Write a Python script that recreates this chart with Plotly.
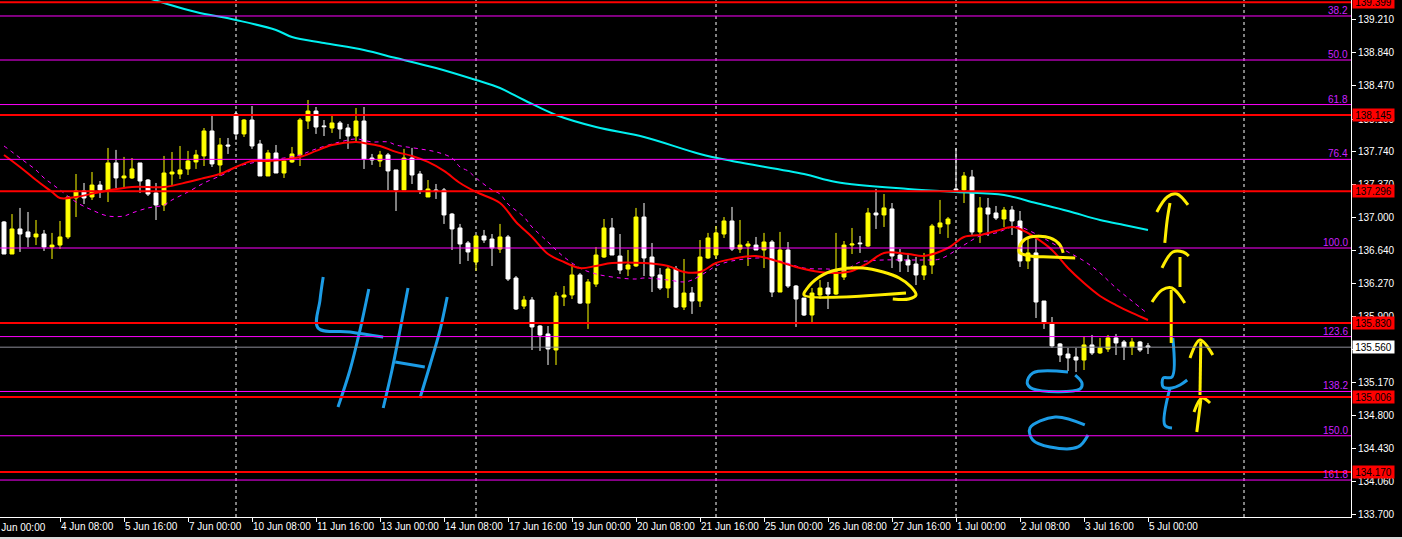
import plotly.graph_objects as go

# ---------------- data ----------------
candle_index = list(range(144))

open_ = [
    136.954, 136.597, 136.876, 136.843, 136.787, 136.820, 136.675, 136.697, 136.787, 137.221,
    137.299, 137.232, 137.365, 137.310, 137.611, 137.444, 137.444, 137.611, 137.421, 137.277,
    137.143, 137.488, 137.488, 137.544, 137.622, 137.689, 137.967, 137.588, 137.811, 138.156,
    137.934, 138.089, 137.822, 137.466, 137.722, 137.499, 137.622, 137.700, 138.078, 138.189,
    138.023, 138.000, 138.056, 138.000, 137.911, 138.078, 137.666, 137.633, 137.700, 137.533,
    137.310, 137.666, 137.488, 137.232, 137.310, 137.310, 137.042, 136.887, 136.720, 136.508,
    136.798, 136.764, 136.653, 136.787, 136.330, 136.018, 136.085, 135.796, 135.707, 135.529,
    136.118, 136.141, 136.364, 136.051, 136.263, 136.564, 136.887, 136.575, 136.430, 136.464,
    137.009, 136.564, 136.364, 136.219, 136.430, 136.007, 136.163, 136.074, 136.553, 136.586,
    136.820, 136.965, 136.653, 136.686, 136.697, 136.642, 136.731, 136.174, 136.642, 136.241,
    136.107, 135.918, 136.141, 136.219, 136.152, 136.341, 136.697, 136.720, 136.686, 137.054,
    137.032, 137.099, 136.586, 136.531, 136.486, 136.364, 136.475, 136.898, 136.932, 137.321,
    137.310, 137.455, 136.843, 137.110, 137.054, 136.987, 137.087, 136.965, 136.520, 136.609,
    136.074, 135.818, 135.596, 135.484, 135.451, 135.417, 135.585, 135.496, 135.540, 135.663,
    135.618, 135.562, 135.618, 135.574]

high = [
    136.965, 137.042, 137.110, 137.065, 136.976, 136.865, 136.832, 136.965, 137.232, 137.488,
    137.388, 137.510, 137.410, 137.778, 137.756, 137.678, 137.666, 137.611, 137.432, 137.388,
    137.689, 137.733, 137.800, 137.745, 137.756, 138.000, 138.156, 137.889, 137.889, 138.189,
    138.100, 138.245, 137.867, 137.756, 137.811, 137.655, 137.789, 138.111, 138.312, 138.234,
    138.089, 138.145, 138.078, 138.045, 138.223, 138.234, 137.711, 137.745, 137.722, 137.533,
    137.767, 137.778, 137.522, 137.421, 137.377, 137.332, 137.054, 136.932, 136.742, 136.809,
    136.865, 136.820, 136.932, 136.809, 136.352, 136.130, 136.118, 135.807, 135.796, 136.174,
    136.241, 136.486, 136.386, 136.319, 136.675, 136.987, 136.998, 136.820, 136.642, 137.110,
    137.165, 136.720, 136.441, 136.464, 136.464, 136.542, 136.230, 136.753, 136.832, 136.909,
    137.009, 137.121, 136.976, 136.742, 136.787, 136.832, 136.753, 136.843, 136.731, 136.252,
    136.107, 136.219, 136.308, 136.286, 136.832, 136.742, 136.887, 136.798, 137.110, 137.321,
    137.265, 137.165, 136.653, 136.609, 136.564, 136.609, 136.932, 137.199, 137.009, 137.778,
    137.510, 137.533, 137.232, 137.221, 137.132, 137.121, 137.132, 137.076, 136.776, 136.764,
    136.074, 135.896, 135.607, 135.551, 135.551, 135.674, 135.696, 135.663, 135.696, 135.707,
    135.640, 135.663, 135.629, 135.607]

low = [
    136.597, 136.597, 136.620, 136.675, 136.697, 136.631, 136.542, 136.653, 136.764, 137.009,
    137.154, 137.199, 137.221, 137.176, 137.332, 137.343, 137.432, 137.277, 137.243, 136.976,
    137.076, 137.354, 137.432, 137.477, 137.544, 137.577, 137.566, 137.466, 137.711, 137.867,
    137.900, 137.767, 137.466, 137.466, 137.499, 137.444, 137.611, 137.577, 137.989, 137.934,
    137.911, 137.945, 137.878, 137.767, 137.833, 137.544, 137.589, 137.566, 137.310, 137.076,
    137.310, 137.377, 137.265, 137.232, 137.210, 136.932, 136.642, 136.486, 136.520, 136.408,
    136.720, 136.464, 136.609, 136.297, 135.974, 135.985, 135.529, 135.518, 135.362, 135.362,
    136.018, 136.096, 136.040, 135.763, 136.230, 136.553, 136.586, 136.375, 136.352, 136.453,
    136.352, 136.174, 136.197, 136.107, 135.996, 135.974, 135.930, 136.007, 136.542, 136.542,
    136.776, 136.631, 136.609, 136.464, 136.642, 136.441, 136.118, 136.174, 136.219, 135.785,
    135.907, 135.830, 136.096, 135.985, 136.141, 136.308, 136.597, 136.609, 136.675, 136.876,
    136.898, 136.441, 136.397, 136.397, 136.252, 136.308, 136.375, 136.820, 136.776, 137.299,
    137.165, 136.809, 136.720, 136.798, 136.976, 136.898, 136.809, 136.453, 136.430, 135.885,
    135.763, 135.551, 135.395, 135.295, 135.284, 135.306, 135.473, 135.484, 135.507, 135.473,
    135.417, 135.473, 135.507, 135.484]

close = [
    136.597, 136.876, 136.820, 136.787, 136.820, 136.675, 136.697, 136.787, 137.232, 137.299,
    137.221, 137.365, 137.310, 137.611, 137.444, 137.466, 137.544, 137.410, 137.265, 137.143,
    137.499, 137.510, 137.533, 137.633, 137.700, 137.967, 137.600, 137.811, 137.800, 137.934,
    138.089, 137.800, 137.466, 137.722, 137.499, 137.633, 137.711, 138.089, 138.189, 138.011,
    138.015, 138.056, 137.989, 137.911, 138.078, 137.655, 137.644, 137.700, 137.522, 137.310,
    137.666, 137.477, 137.310, 137.321, 137.299, 137.032, 136.876, 136.709, 136.620, 136.798,
    136.753, 136.664, 136.787, 136.319, 135.985, 136.085, 135.785, 135.696, 135.540, 136.130,
    136.141, 136.364, 136.051, 136.286, 136.586, 136.887, 136.586, 136.419, 136.475, 137.009,
    136.553, 136.352, 136.219, 136.430, 136.007, 136.163, 136.074, 136.564, 136.776, 136.832,
    136.965, 136.653, 136.697, 136.709, 136.642, 136.731, 136.174, 136.642, 136.241, 136.096,
    135.918, 136.163, 136.219, 136.152, 136.397, 136.697, 136.709, 136.712, 137.054, 137.032,
    137.110, 136.575, 136.520, 136.475, 136.364, 136.464, 136.909, 136.943, 136.987, 137.310,
    137.466, 136.843, 137.110, 137.042, 136.998, 137.087, 136.965, 136.520, 136.609, 136.063,
    135.830, 135.574, 135.473, 135.440, 135.417, 135.585, 135.496, 135.551, 135.663, 135.607,
    135.562, 135.618, 135.529, 135.560]

# moving averages (sampled at candle indices)
red_ma_index = [0, 2, 4, 6, 7, 9, 12, 16, 20, 23, 25, 27, 29, 31, 33, 37, 39, 41, 44, 45, 47, 49,
                51, 53, 55, 57, 59, 62, 64, 66, 68, 70, 72, 74, 76, 80, 83, 85, 87, 89, 91, 94,
                97, 99, 102, 104, 106, 108, 110, 113, 115, 118, 120, 122, 124, 126, 127, 129,
                131, 133, 135, 137, 139, 141, 143]
red_ma = [137.700, 137.566, 137.421, 137.288, 137.221, 137.232, 137.288, 137.343, 137.343, 137.399,
          137.444, 137.488, 137.566, 137.633, 137.633, 137.678, 137.745, 137.811, 137.845, 137.833,
          137.800, 137.734, 137.689, 137.622, 137.522, 137.388, 137.288, 137.165, 136.954, 136.787,
          136.597, 136.508, 136.441, 136.464, 136.497, 136.497, 136.464, 136.397, 136.397, 136.497,
          136.542, 136.575, 136.508, 136.453, 136.397, 136.386, 136.408, 136.497, 136.609, 136.597,
          136.575, 136.664, 136.787, 136.809, 136.854, 136.898, 136.876, 136.776, 136.642, 136.441,
          136.274, 136.130, 136.029, 135.941, 135.863]

magenta_ma_index = [0, 1, 2, 3, 4, 5, 6, 7, 9, 11, 13, 15, 16, 18, 20, 21, 23, 25, 27, 28, 29, 31,
                    33, 35, 37, 39, 42, 44, 46, 48, 49, 52, 54, 56, 57, 58, 59, 61, 62, 63, 65, 66,
                    68, 69, 70, 72, 74, 77, 79, 80, 83, 85, 86, 88, 89, 91, 95, 97, 100, 103, 105,
                    107, 108, 110, 113, 115, 117, 120, 122, 124, 126, 127, 129, 131, 133, 135, 137,
                    139, 141, 143]
magenta_ma = [137.800, 137.734, 137.666, 137.600, 137.533, 137.444, 137.377, 137.310, 137.176, 137.087,
              137.020, 137.020, 137.054, 137.110, 137.143, 137.199, 137.288, 137.388, 137.466, 137.510,
              137.566, 137.611, 137.644, 137.666, 137.700, 137.767, 137.845, 137.878, 137.845, 137.845,
              137.811, 137.767, 137.734, 137.666, 137.566, 137.522, 137.444, 137.310, 137.265, 137.154,
              137.009, 136.898, 136.731, 136.642, 136.564, 136.441, 136.375, 136.330, 136.319, 136.330,
              136.308, 136.286, 136.308, 136.408, 136.464, 136.520, 136.553, 136.520, 136.441, 136.430,
              136.419, 136.508, 136.520, 136.531, 136.531, 136.531, 136.542, 136.697, 136.798, 136.832,
              136.898, 136.898, 136.820, 136.720, 136.620, 136.520, 136.386, 136.219, 136.074, 135.930]

cyan_ma_index = [18, 20, 24, 29, 34, 36, 40, 45, 49, 54, 59, 62, 65, 69, 74, 80, 87, 91, 100, 104,
                 113, 119, 125, 129, 133, 137, 140, 143]
cyan_ma = [139.447, 139.392, 139.291, 139.202, 139.091, 139.013, 138.946, 138.868, 138.779, 138.668,
           138.534, 138.445, 138.312, 138.145, 138.011, 137.900, 137.711, 137.633, 137.488, 137.399,
           137.321, 137.288, 137.254, 137.165, 137.076, 136.976, 136.920, 136.865]

x_tick_index = [7, 15, 23, 31, 39, 47, 55, 63, 71, 79, 87, 95, 103, 111, 119, 127, 135, 143]
x_tick_labels = ["4 Jun 08:00", "5 Jun 16:00", "7 Jun 00:00", "10 Jun 08:00", "11 Jun 16:00",
                 "13 Jun 00:00", "14 Jun 08:00", "17 Jun 16:00", "19 Jun 00:00", "20 Jun 08:00",
                 "21 Jun 16:00", "25 Jun 00:00", "26 Jun 08:00", "27 Jun 16:00", "1 Jul 00:00",
                 "2 Jul 08:00", "3 Jul 16:00", "5 Jul 00:00"]
first_label_index = -1
first_label = "3 Jun 00:00"

y_tick_values = [139.210, 138.840, 138.470, 138.100, 137.740, 137.370, 137.000, 136.640, 136.270,
                 135.900, 135.530, 135.170, 134.800, 134.430, 134.060, 133.700]

red_levels = [139.399, 138.145, 137.296, 135.830, 135.006, 134.170]
fib_labels = ["38.2", "50.0", "61.8", "76.4", "100.0", "123.6", "138.2", "150.0", "161.8"]
fib_levels = [139.247, 138.757, 138.261, 137.651, 136.664, 135.678, 135.067, 134.574, 134.081]
current_price = 135.560
separator_index = [29, 59, 89, 119, 155]

# hand-drawn marks (candle index, price)
blue_strokes = [
    ([39.9, 39.5, 39.25, 43.25, 47.4], [136.341, 136.085, 135.774, 135.729, 135.673]),
    ([45.6, 44.5, 43.25, 41.75], [136.208, 135.751, 135.306, 134.894]),
    ([50.5, 49.5, 48.5, 47.4], [136.219, 135.751, 135.306, 134.883]),
    ([48.9, 52.6], [135.395, 135.340]),
    ([55.4, 54.5, 53.25, 52.0], [136.119, 135.751, 135.362, 134.994]),
    ([133.0, 128.6, 127.9, 128.6, 134.5, 134.75, 133.9],
     [135.284, 135.273, 135.161, 135.095, 135.095, 135.161, 135.250]),
    ([135.1, 131.4, 128.25, 128.6, 130.75, 134.25, 135.5],
     [134.694, 134.783, 134.661, 134.527, 134.449, 134.449, 134.583]),
    ([146.1, 146.0, 144.9, 144.9, 146.0, 147.0, 147.9],
     [135.662, 135.228, 135.217, 135.117, 135.106, 135.139, 135.195]),
    ([145.75, 145.1, 146.0], [135.106, 134.694, 134.661]),
]
yellow_strokes = [
    ([112.75, 100.0, 100.25, 101.9, 104.0, 107.4, 109.9, 111.9, 113.4, 114.0, 113.1, 111.1],
     [136.163, 136.141, 136.197, 136.341, 136.419, 136.442, 136.397, 136.330, 136.230, 136.141,
      136.097, 136.097]),
    ([132.4, 132.0, 130.75, 128.25, 127.25, 126.9, 128.25, 130.75, 133.9],
     [136.609, 136.698, 136.776, 136.787, 136.731, 136.620, 136.575, 136.564, 136.553]),
    ([144.1, 145.4, 146.6, 148.0], [137.065, 137.232, 137.265, 137.143]),
    ([145.75, 145.4, 145.1], [137.165, 136.976, 136.720]),
    ([144.75, 146.1, 147.4, 148.1], [136.442, 136.620, 136.620, 136.575]),
    ([147.0, 147.0], [136.564, 136.230]),
    ([143.5, 144.75, 146.0, 147.6], [136.063, 136.197, 136.219, 136.052]),
    ([145.9, 145.9], [136.197, 135.607]),
    ([148.25, 149.5, 151.1], [135.440, 135.640, 135.473]),
    ([149.6, 149.5], [135.618, 135.028]),
    ([148.75, 149.75, 150.75], [134.839, 134.994, 134.939]),
    ([149.6, 149.1], [134.972, 134.616]),
]

# ---------------- figure ----------------
W, H = 1402, 539
ML, MR, MT, MB = 0, 51, 0, 22
X_RANGE = [-0.5, 168.375]
FONT = "Liberation Sans, Arial, sans-serif"

fig = go.Figure()

fig.add_trace(go.Candlestick(
    x=candle_index, open=open_, high=high, low=low, close=close,
    increasing=dict(line=dict(color="#ffff00", width=1), fillcolor="#ffff00"),
    decreasing=dict(line=dict(color="#ffffff", width=1), fillcolor="#ffffff"),
    whiskerwidth=0, hoverinfo="skip", showlegend=False))

fig.add_trace(go.Scatter(x=cyan_ma_index, y=cyan_ma, mode="lines",
                         line=dict(color="#00f0f0", width=2, shape="spline"),
                         hoverinfo="skip", showlegend=False))
fig.add_trace(go.Scatter(x=magenta_ma_index, y=magenta_ma, mode="lines",
                         line=dict(color="#ff00ff", width=1, dash="4px,4px", shape="spline"),
                         hoverinfo="skip", showlegend=False))
fig.add_trace(go.Scatter(x=red_ma_index, y=red_ma, mode="lines",
                         line=dict(color="#ff0000", width=2, shape="spline"),
                         hoverinfo="skip", showlegend=False))

for xs, ys in blue_strokes:
    fig.add_trace(go.Scatter(x=xs, y=ys, mode="lines",
                             line=dict(color="#1c9ce6", width=3, shape="spline"),
                             hoverinfo="skip", showlegend=False, cliponaxis=False))
for xs, ys in yellow_strokes:
    fig.add_trace(go.Scatter(x=xs, y=ys, mode="lines",
                             line=dict(color="#ffee00", width=3, shape="spline"),
                             hoverinfo="skip", showlegend=False, cliponaxis=False))

shapes = []
for s in separator_index:
    shapes.append(dict(type="line", xref="x", yref="paper", x0=s, x1=s, y0=0, y1=1,
                       line=dict(color="#ffffff", width=1, dash="3px,3px"), layer="below"))
for lv in fib_levels:
    shapes.append(dict(type="line", xref="paper", yref="y", x0=0, x1=1, y0=lv, y1=lv,
                       line=dict(color="#ff00ff", width=1)))
shapes.append(dict(type="line", xref="paper", yref="y", x0=0, x1=1, y0=current_price,
                   y1=current_price, line=dict(color="#8c8c96", width=1)))
for lv in red_levels:
    shapes.append(dict(type="line", xref="paper", yref="y", x0=0, x1=1, y0=lv, y1=lv,
                       line=dict(color="#ff0000", width=2)))
# light window border strip at the very bottom
shapes.append(dict(type="rect", xref="paper", yref="paper", x0=-0.01, x1=1.1,
                   y0=-MB / 517, y1=-(MB - 2) / 517, fillcolor="#d8d8d8", line=dict(width=0)))

annotations = []
for lab, lv in zip(fib_labels, fib_levels):
    annotations.append(dict(x=1, xref="paper", y=lv, yref="y", text=lab, showarrow=False,
                            xanchor="right", yanchor="bottom", xshift=-1, yshift=-2,
                            font=dict(family=FONT, size=10, color="#cc22ff")))
for lv in red_levels:
    annotations.append(dict(x=1, xref="paper", y=lv, yref="y", text=f"{lv:.3f}",
                            showarrow=False, xanchor="left", yanchor="middle", xshift=1,
                            width=41, height=12, borderpad=0, bgcolor="#ff0000",
                            font=dict(family=FONT, size=10, color="#000000")))
annotations.append(dict(x=1, xref="paper", y=current_price, yref="y", text=f"{current_price:.3f}",
                        showarrow=False, xanchor="left", yanchor="middle", xshift=1,
                        width=41, height=12, borderpad=0, bgcolor="#ffffff",
                        font=dict(family=FONT, size=10, color="#000000")))
first_label_paper_x = (first_label_index - X_RANGE[0]) / (X_RANGE[1] - X_RANGE[0])
annotations.append(dict(x=first_label_paper_x, xref="paper", y=0, yref="paper", text=first_label,
                        showarrow=False, xanchor="left", yanchor="top", yshift=-3, xshift=-5,
                        font=dict(family=FONT, size=10, color="#ffffff")))

fig.update_layout(
    width=W, height=H, autosize=False,
    margin=dict(l=ML, r=MR, t=MT, b=MB, pad=0, autoexpand=False),
    paper_bgcolor="#000000", plot_bgcolor="#000000",
    showlegend=False, shapes=shapes, annotations=annotations,
    font=dict(family=FONT, size=10, color="#ffffff"),
    xaxis=dict(range=X_RANGE, showgrid=False, zeroline=False, automargin=False,
               rangeslider=dict(visible=False),
               tickmode="array", tickvals=x_tick_index, ticktext=x_tick_labels,
               tickangle=0,
               ticks="outside", ticklen=4, tickcolor="#ffffff", tickwidth=1,
               ticklabelposition="outside right",
               showline=True, linecolor="#ffffff", linewidth=1,
               tickfont=dict(family=FONT, size=10, color="#ffffff"), fixedrange=True),
    yaxis=dict(range=[133.6695, 139.425], side="right", showgrid=False, zeroline=False,
               automargin=False,
               tickmode="array", tickvals=y_tick_values, tickformat=".3f",
               ticks="outside", ticklen=4, tickcolor="#ffffff", tickwidth=1,
               showline=True, linecolor="#ffffff", linewidth=1,
               tickfont=dict(family=FONT, size=10, color="#ffffff"), fixedrange=True),
)

fig.write_html(
    "out.html",
    config={"displayModeBar": False, "staticPlot": True},
    post_script="document.body.style.margin='0';document.body.style.background='#000';",
)
